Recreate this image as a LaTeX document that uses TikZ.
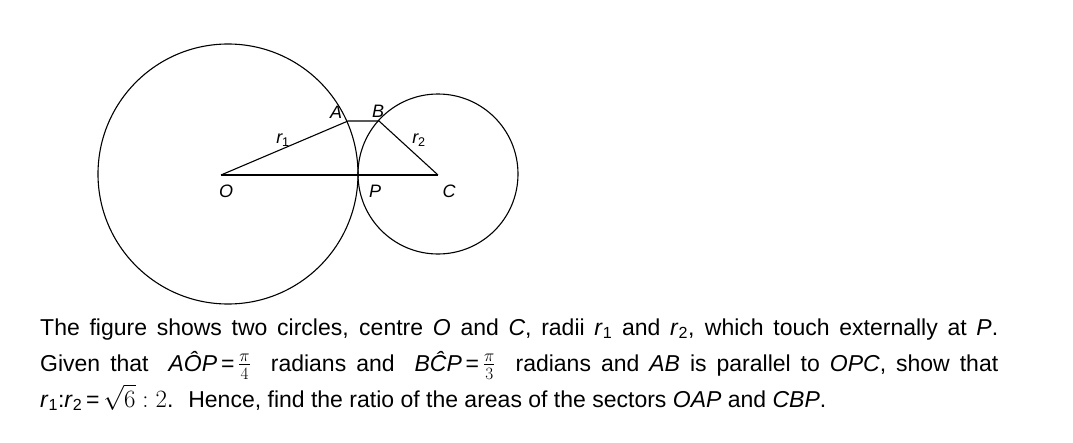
\documentclass[tikz,border=0pt]{standalone}
\usepackage{amsmath}
\usepackage{fontspec}
\setmainfont{Liberation Sans}
\begin{document}
\begin{tikzpicture}[x=1pt,y=-1pt,
  geo/.style={line width=1.1pt,black},
  lbl/.style={font=\fontsize{18}{20}\selectfont\itshape,inner sep=0pt},
  txt/.style={font=\fontsize{23}{26}\selectfont,anchor=base west,inner sep=0pt,text height=17pt,text depth=5pt}]
\useasboundingbox (0,0) rectangle (1073,442);
% points
\coordinate (O) at (221,175);
\coordinate (P) at (359,175);
\coordinate (C) at (438,175);
\coordinate (A) at (348,121);
\coordinate (B) at (379,121);
\coordinate (bigc) at (228,174);
\coordinate (smallc) at (438,174);
% circles
\draw[geo] (bigc) circle[radius=130];
\draw[geo] (smallc) circle[radius=80];
% lines
\draw[geo] (O) -- (C);
\draw[geo] (O) -- (A) -- (B) -- (C);
% labels
\node[lbl] (lA) at (336,112) {A};
\node[lbl] (lB) at (378,111) {B};
\node[lbl] (lr1) at (283,140) {r\textsubscript{\upshape 1}};
\node[lbl] (lr2) at (419,140) {r\textsubscript{\upshape 2}};
\node[lbl] (lO) at (226,191) {O};
\node[lbl] (lP) at (375,191) {P};
\node[lbl] (lC) at (449,191) {C};
% text
\node[txt] (t1) at (40,335) {\hbox to 958pt{The figure shows two circles, centre \textit{O} and \textit{C}, radii \textit{r}\textsubscript{1} and \textit{r}\textsubscript{2}, which touch externally at \textit{P}.}};
\node[txt] (t2) at (40,371) {\hbox to 958pt{Given that \ \textit{A\^{O}P}\,=\,$\tfrac{\pi}{4}$ \ radians and \ \textit{B\^{C}P}\,=\,$\tfrac{\pi}{3}$ \ radians and \textit{AB} is parallel to \textit{OPC}, show that}};
\node[txt] (t3) at (40,407) {\textit{r}\textsubscript{1}:\textit{r}\textsubscript{2}\,=\,$\sqrt{6}:2$. \ Hence, find the ratio of the areas of the sectors \textit{OAP} and \textit{CBP}.};
\end{tikzpicture}
\end{document}
